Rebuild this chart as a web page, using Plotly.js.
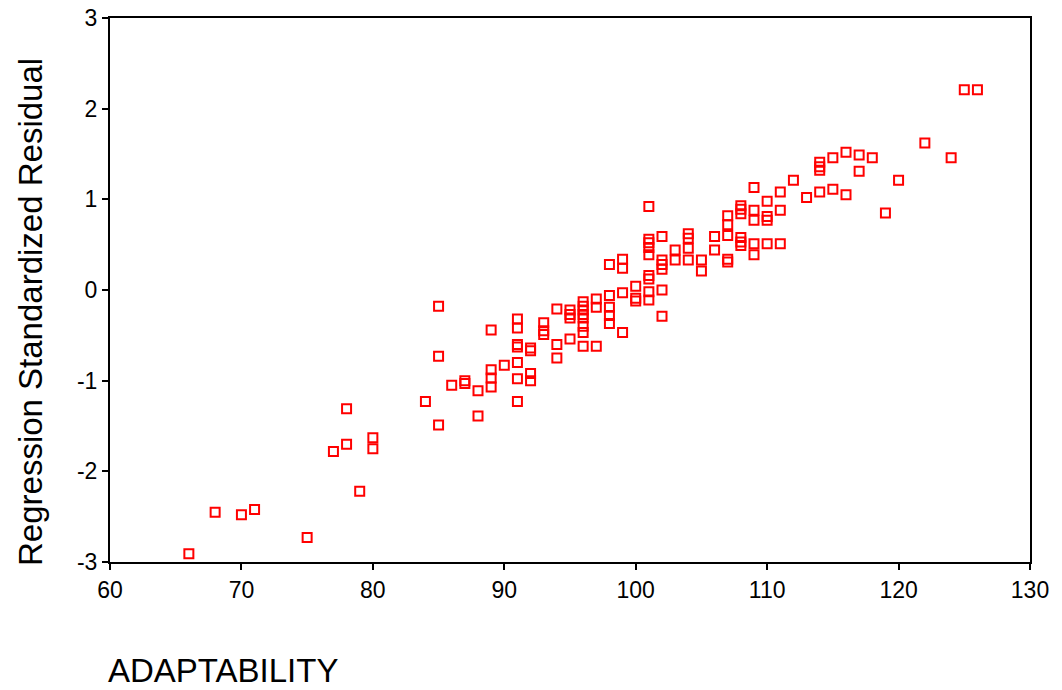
<!DOCTYPE html>
<html>
<head>
<meta charset="utf-8">
<script src="https://cdn.plot.ly/plotly-3.0.1.min.js"></script>
<style>html,body{margin:0;padding:0;background:#fff;}#chart{width:1062px;height:690px;}</style>
</head>
<body>
<div id="chart"></div>
<script>
var adaptability = [
  66, 68, 70, 71, 75, 77, 78, 78, 79, 80, 80,
  84, 85, 85, 85, 86, 87, 87, 88, 88,
  89, 89, 89, 89, 90,
  91, 91, 91, 91, 91, 91, 91,
  92, 92, 92, 92,
  93, 93, 93,
  94, 94, 94,
  95, 95, 95, 95,
  96, 96, 96, 96, 96, 96, 96, 96,
  97, 97, 97,
  98, 98, 98, 98, 98,
  99, 99, 99, 99,
  100, 100, 100,
  101, 101, 101, 101, 101, 101, 101, 101, 101,
  102, 102, 102, 102, 102, 102,
  103, 103,
  104, 104, 104, 104,
  105, 105,
  106, 106,
  107, 107, 107, 107, 107,
  108, 108, 108, 108, 108, 108,
  109, 109, 109, 109, 109,
  110, 110, 110, 110,
  111, 111, 111,
  112, 113,
  114, 114, 114, 114,
  115, 115, 116, 116, 117, 117, 118,
  119, 120, 122, 124, 125, 126
];
var residual = [
  -2.91, -2.45, -2.48, -2.42, -2.73, -1.78, -1.31, -1.70, -2.22, -1.63, -1.75,
  -1.23, -0.18, -0.73, -1.49, -1.05, -1.00, -1.03, -1.11, -1.39,
  -0.44, -0.88, -0.97, -1.07, -0.83,
  -0.32, -0.42, -0.60, -0.63, -0.80, -0.98, -1.23,
  -0.64, -0.67, -0.92, -1.00,
  -0.36, -0.45, -0.49,
  -0.21, -0.60, -0.75,
  -0.22, -0.27, -0.31, -0.54,
  -0.13, -0.18, -0.22, -0.27, -0.31, -0.40, -0.47, -0.62,
  -0.10, -0.19, -0.62,
  0.28, -0.06, -0.19, -0.28, -0.37,
  0.34, 0.24, -0.03, -0.47,
  0.04, -0.09, -0.12,
  0.92, 0.56, 0.52, 0.47, 0.39, 0.16, 0.12, -0.02, -0.11,
  0.59, 0.33, 0.28, 0.23, 0.00, -0.29,
  0.44, 0.33,
  0.62, 0.57, 0.46, 0.33,
  0.33, 0.21,
  0.59, 0.44,
  0.82, 0.72, 0.60, 0.34, 0.31,
  0.93, 0.89, 0.84, 0.58, 0.53, 0.49,
  1.13, 0.88, 0.77, 0.51, 0.39,
  0.98, 0.81, 0.77, 0.51,
  1.08, 0.88, 0.51,
  1.21, 1.02,
  1.08, 1.41, 1.36, 1.32,
  1.46, 1.11, 1.52, 1.05, 1.49, 1.31, 1.46,
  0.85, 1.21, 1.62, 1.46, 2.21, 2.21
];
var xTicks = [60, 70, 80, 90, 100, 110, 120, 130];
var yTicks = [-3, -2, -1, 0, 1, 2, 3];
var xLabel = "ADAPTABILITY";
var yLabel = "Regression Standardized Residual";

var font = "Liberation Sans, Arial, sans-serif";

var trace = {
  x: adaptability,
  y: residual,
  type: "scatter",
  mode: "markers",
  marker: {symbol: "square-open", size: 9, color: "#ff0000", line: {width: 2, color: "#ff0000"}},
  hoverinfo: "x+y"
};

var layout = {
  width: 1062, height: 690,
  margin: {l: 110, r: 32, t: 18, b: 128, pad: 0},
  paper_bgcolor: "#ffffff", plot_bgcolor: "#ffffff",
  showlegend: false,
  font: {family: font, color: "#000000"},
  xaxis: {
    range: [60, 130], tickvals: xTicks, ticktext: xTicks.map(String),
    showgrid: false, zeroline: false, showline: true, mirror: true,
    linecolor: "#000000", linewidth: 2, ticks: "outside", ticklen: 6, tickwidth: 2,
    tickcolor: "#000000", tickfont: {family: font, size: 23, color: "#000000"}
  },
  yaxis: {
    range: [-3, 3], tickvals: yTicks, ticktext: yTicks.map(String),
    showgrid: false, zeroline: false, showline: true, mirror: true,
    linecolor: "#000000", linewidth: 2, ticks: "outside", ticklen: 6, tickwidth: 2,
    tickcolor: "#000000", tickfont: {family: font, size: 23, color: "#000000"}
  },
  annotations: [
    {text: xLabel, xref: "paper", yref: "paper", x: 0, y: 0, xanchor: "left", yanchor: "middle",
     xshift: -4, yshift: -108, showarrow: false, font: {family: font, size: 33, color: "#000000"}},
    {text: yLabel, xref: "paper", yref: "paper", x: 0, y: 0.5, xanchor: "center", yanchor: "middle",
     xshift: -80, yshift: -22, textangle: -90, showarrow: false, font: {family: font, size: 33, color: "#000000"}}
  ]
};

Plotly.newPlot("chart", [trace], layout, {displayModeBar: false, staticPlot: true});
</script>
</body>
</html>
